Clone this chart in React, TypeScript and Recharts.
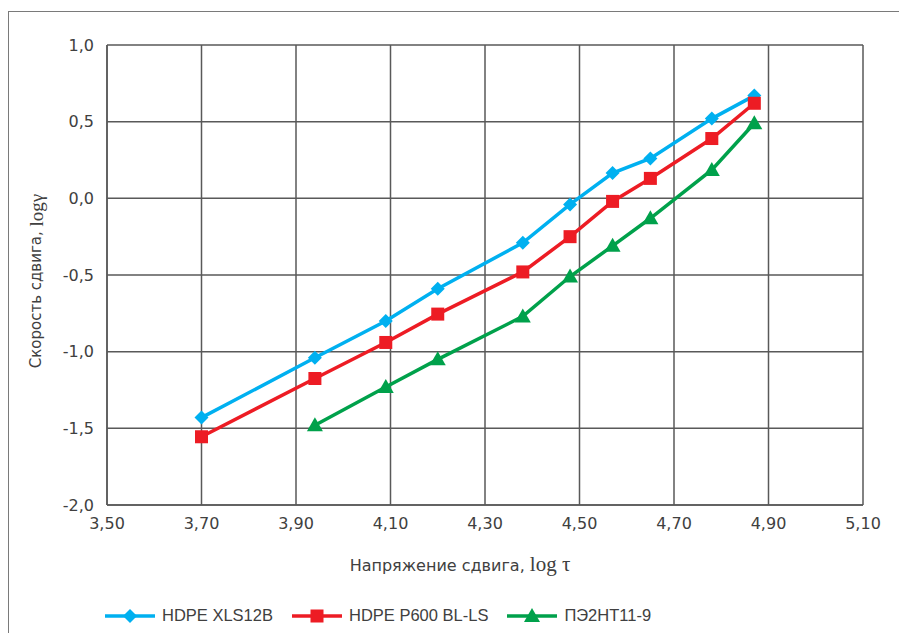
import { CartesianGrid, Label, Legend, Line, LineChart, XAxis, YAxis } from "recharts";

// log τ (x) and log γ (y) values
const LOG_TAU = [3.7, 3.94, 4.09, 4.2, 4.38, 4.48, 4.57, 4.65, 4.78, 4.87];
const XLS12B = [-1.43, -1.04, -0.8, -0.59, -0.29, -0.04, 0.165, 0.26, 0.52, 0.67];
const P600 = [-1.555, -1.175, -0.94, -0.755, -0.48, -0.25, -0.02, 0.13, 0.39, 0.62];
const PE2NT = [null, -1.48, -1.23, -1.05, -0.77, -0.51, -0.31, -0.13, 0.185, 0.49];

const X_TICKS = [3.5, 3.7, 3.9, 4.1, 4.3, 4.5, 4.7, 4.9, 5.1];
const Y_TICKS = [-2, -1.5, -1, -0.5, 0, 0.5, 1];

type Shape = "diamond" | "square" | "triangle";

const SERIES: { key: string; name: string; color: string; shape: Shape }[] = [
  { key: "xls", name: "HDPE XLS12B", color: "#00b0f0", shape: "diamond" },
  { key: "p600", name: "HDPE P600 BL-LS", color: "#ed1c24", shape: "square" },
  { key: "pe", name: "ПЭ2НТ11-9", color: "#00a14b", shape: "triangle" },
];

const data = LOG_TAU.map((x, i) => ({ x, xls: XLS12B[i], p600: P600[i], pe: PE2NT[i] }));

const TICK_FONT = "'DejaVu Sans', Verdana, sans-serif";
const SERIF = "'Liberation Serif', 'Times New Roman', serif";
const TEXT_COLOR = "#404040";
const GRID = "#595959";

function Marker({ cx, cy, shape, color }: { cx: number; cy: number; shape: Shape; color: string }) {
  if (shape === "diamond") {
    return <polygon points={`${cx},${cy - 7} ${cx + 7},${cy} ${cx},${cy + 7} ${cx - 7},${cy}`} fill={color} />;
  }
  if (shape === "square") {
    return <rect x={cx - 6.5} y={cy - 6.5} width={13} height={13} fill={color} />;
  }
  return <polygon points={`${cx},${cy - 8} ${cx + 8},${cy + 6} ${cx - 8},${cy + 6}`} fill={color} />;
}

const makeDot = (shape: Shape, color: string) => (p: any) => {
  if (p.cx == null || p.cy == null || p.value == null) return <g key={`e${p.index}`} />;
  return (
    <g key={`d${p.index}`}>
      <Marker cx={p.cx} cy={p.cy} shape={shape} color={color} />
    </g>
  );
};

const fmt = (digits: number) => (v: number) => v.toFixed(digits).replace(".", ",");

function LegendContent() {
  return (
    <div
      style={{
        display: "flex",
        alignItems: "center",
        fontFamily: "'Liberation Sans', Arial, sans-serif",
        fontSize: 16.5,
        color: TEXT_COLOR,
        whiteSpace: "nowrap",
      }}
    >
      {SERIES.map((s) => (
        <div key={s.key} style={{ display: "flex", alignItems: "center", marginRight: 19 }}>
          <svg width={50} height={18} style={{ marginRight: 7 }}>
            <line x1={0} y1={9} x2={50} y2={9} stroke={s.color} strokeWidth={3.5} />
            <Marker cx={25} cy={9} shape={s.shape} color={s.color} />
          </svg>
          <span>{s.name}</span>
        </div>
      ))}
    </div>
  );
}

export default function App() {
  return (
    <div style={{ position: "fixed", top: 0, left: 0, width: 899, height: 633, overflow: "hidden", background: "#fff" }}>
      {/* outer frame: only top and left edges are visible in the picture */}
      <div
        style={{
          position: "absolute",
          top: 11,
          left: 8,
          width: 920,
          height: 660,
          borderTop: "1px solid #7a7a7a",
          borderLeft: "1px solid #7a7a7a",
        }}
      />
      <div style={{ position: "absolute", top: 12, left: 9 }}>
        <LineChart width={890} height={613} data={data} margin={{ top: 33, right: 36, left: 0, bottom: 90 }}>
          <CartesianGrid stroke={GRID} strokeWidth={1.5} />
          <XAxis
            dataKey="x"
            type="number"
            domain={[3.5, 5.1]}
            ticks={X_TICKS}
            tickFormatter={fmt(2)}
            tickSize={0}
            tickMargin={13}
            height={30}
            axisLine={{ stroke: GRID, strokeWidth: 1.5 }}
            tick={{ fill: TEXT_COLOR, fontSize: 16, fontFamily: TICK_FONT }}
          >
            <Label
              content={({ viewBox }: any) => (
                <text
                  x={viewBox.x + viewBox.width / 2 - 25}
                  y={viewBox.y + 66}
                  textAnchor="middle"
                  fill={TEXT_COLOR}
                  fontSize={16}
                  fontFamily={TICK_FONT}
                >
                  Напряжение сдвига,{" "}
                  <tspan fontFamily={SERIF} fontSize={21}>
                    log τ
                  </tspan>
                </text>
              )}
            />
          </XAxis>
          <YAxis
            type="number"
            domain={[-2, 1]}
            ticks={Y_TICKS}
            tickFormatter={fmt(1)}
            width={98}
            tickSize={0}
            tickMargin={13}
            axisLine={{ stroke: GRID, strokeWidth: 1.5 }}
            tick={{ fill: TEXT_COLOR, fontSize: 16, fontFamily: TICK_FONT }}
          >
            <Label
              content={({ viewBox }: any) => {
                const cx = 27;
                const cy = viewBox.y + 236;
                return (
                  <text
                    x={cx}
                    y={cy}
                    transform={`rotate(-90, ${cx}, ${cy})`}
                    textAnchor="middle"
                    dominantBaseline="central"
                    fill={TEXT_COLOR}
                    fontSize={15}
                    fontFamily={TICK_FONT}
                  >
                    Скорость сдвига,{" "}
                    <tspan fontFamily={SERIF} fontSize={19}>
                      logγ
                    </tspan>
                  </text>
                );
              }}
            />
          </YAxis>
          <Legend
            layout="horizontal"
            verticalAlign="middle"
            align="center"
            content={<LegendContent />}
            wrapperStyle={{ top: 594, left: 96, width: "auto" }}
          />
          {SERIES.map((s) => (
            <Line
              key={s.key}
              dataKey={s.key}
              name={s.name}
              type="linear"
              stroke={s.color}
              strokeWidth={3.5}
              dot={makeDot(s.shape, s.color)}
              activeDot={false}
              connectNulls={false}
              isAnimationActive={false}
            />
          ))}
        </LineChart>
      </div>
    </div>
  );
}
